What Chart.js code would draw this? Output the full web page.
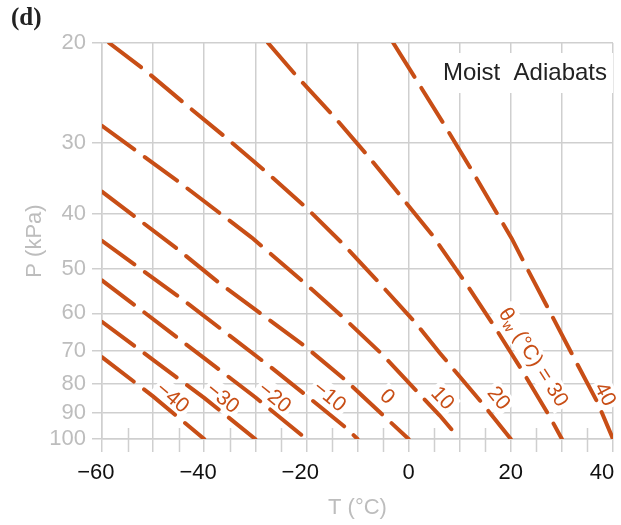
<!DOCTYPE html>
<html>
<head>
<meta charset="utf-8">
<script src="https://cdn.jsdelivr.net/npm/chart.js@4/dist/chart.umd.min.js"></script>
<style>
  html, body { margin: 0; padding: 0; background: #fff; }
  #wrap { width: 621px; height: 525px; }
</style>
</head>
<body>
<div id="wrap"><canvas id="chart" width="621" height="525"></canvas></div>
<script>
// wet-bulb potential temperature of each moist adiabat (deg C)
const thetaW = [-40, -30, -20, -10, 0, 10, 20, 30, 40];

// T (deg C) and P (kPa) along each curve
const tempM40 = [-60, -50, -40];
const presM40 = [71.7, 84.1, 100];
const tempM30 = [-60, -50, -40, -30];
const presM30 = [62.1, 72.5, 84.6, 100];
const tempM20 = [-60, -51.7, -40, -30, -20];
const presM20 = [52.5, 59.8, 72.0, 84.4, 100];
const tempM10 = [-60, -44.7, -26.8, -20.3, -12.1, -10];
const presM10 = [44.7, 56.3, 74.9, 83.4, 95.8, 100];
const tempP0 = [-60, -45.1, -37.1, -28.8, -20.3, -12.5, -5.0, 0];
const presP0 = [36.6, 46.3, 53.0, 60.2, 68.6, 78.5, 90.8, 100];
const tempP10 = [-60, -45.1, -30.7, -20.4, -12.8, -5.3, 1.3, 6.1, 10];
const presP10 = [28.0, 35.1, 44.1, 53.0, 61.0, 70.7, 81.8, 90.9, 100];
const tempP20 = [-58.6, -51.7, -43.8, -35.9, -28.0, -20.1, -12.8, -5.6, 1.3, 6.1, 14.6, 20];
const presP20 = [20, 22.3, 25.6, 29.3, 33.7, 39.0, 45.3, 53.2, 62.3, 70.5, 86.9, 100];
const tempP30 = [-27.5, -21.7, -14.7, -7.9, -1.4, 4.5, 11.0, 16.6, 22.3, 27.7, 30];
const presP30 = [20, 23.0, 26.9, 31.7, 37.4, 43.5, 52.8, 62.9, 75.9, 91.6, 100];
const tempP40 = [-3.0, 1.6, 7.0, 12.4, 17.6, 20.2, 23.4, 28.3, 32.4, 37.0, 40];
const presP40 = [20, 23.3, 27.9, 33.6, 40.4, 44.3, 50.4, 61.2, 72.0, 86.3, 100];

// axis ticks
const pressureTicks = [20, 30, 40, 50, 60, 70, 80, 90, 100];
const tempMin = -60;
const tempMax = 40;

const curveTemps = [tempM40, tempM30, tempM20, tempM10, tempP0, tempP10, tempP20, tempP30, tempP40];
const curvePres = [presM40, presM30, presM20, presM10, presP0, presP10, presP20, presP30, presP40];

// where each curve label sits: pressure along the curve, and gap off the line (px)
const labelAt = [87.6, 87.8, 87.7, 87.9, 88.4, 88.1, 88.2, 74.3, 85.1];
const labelGap = [11, 11, 11.5, 13.5, 16, 13.5, 15.5, 16, 10];

const ORANGE = '#c84e16';
const GRID = '#cfcfcf';
const PALE = '#bdbdbd';
const SANS = '"Liberation Sans", Arial, sans-serif';

const fmt = (v) => (v < 0 ? '\u2212' + Math.abs(v) : String(v));

// x tick text: digits sit centred on the tick, the minus hangs to the left,
// and the last label is pulled inside the frame
function xTickLabel(v) {
  if (v % 20 !== 0) return '';
  if (v < 0) return fmt(v) + '\u2007';
  if (v === tempMax) return fmt(v) + '\u2002\u2002';
  return fmt(v);
}

const datasets = thetaW.map((tw, i) => ({
  label: fmt(tw),
  data: curveTemps[i].map((t, k) => ({ x: t, y: curvePres[i][k] })),
  borderColor: ORANGE,
  borderWidth: 4,
  borderDash: [40, 13],
  borderCapStyle: 'round',
  pointRadius: 0,
  tension: 0,
  fill: false,
}));

/** Finds a point on curve i at pressure p and the local direction in pixels. */
function anchorOnCurve(chart, i, p) {
  const { x, y } = chart.scales;
  const ts = curveTemps[i];
  const ps = curvePres[i];
  let k = 0;
  while (k < ps.length - 2 && ps[k + 1] < p) k++;
  const f = (Math.log(p) - Math.log(ps[k])) / (Math.log(ps[k + 1]) - Math.log(ps[k]));
  const t = ts[k] + f * (ts[k + 1] - ts[k]);
  const x1 = x.getPixelForValue(ts[k]);
  const y1 = y.getPixelForValue(ps[k]);
  const x2 = x.getPixelForValue(ts[k + 1]);
  const y2 = y.getPixelForValue(ps[k + 1]);
  return {
    px: x.getPixelForValue(t),
    py: y.getPixelForValue(p),
    angle: Math.atan2(y2 - y1, x2 - x1),
  };
}

const decorations = {
  id: 'decorations',
  beforeDatasetsDraw(chart) {
    const { ctx, chartArea, scales } = chart;
    ctx.save();

    // minor ticks every 5 degrees across the bottom axis
    ctx.strokeStyle = GRID;
    ctx.lineWidth = 1.5;
    for (let v = tempMin + 5; v < tempMax; v += 10) {
      const px = Math.round(scales.x.getPixelForValue(v)) + 0.5;
      ctx.beginPath();
      ctx.moveTo(px, chartArea.bottom - 11);
      ctx.lineTo(px, chartArea.bottom + 13);
      ctx.stroke();
    }

    // "Moist Adiabats" box
    ctx.font = '24px ' + SANS;
    ctx.textBaseline = 'middle';
    ctx.textAlign = 'right';
    const title = 'Moist  Adiabats';
    const tw = ctx.measureText(title).width;
    const tx = chartArea.right - 6;
    const ty = chartArea.top + 30;
    ctx.fillStyle = '#fff';
    ctx.fillRect(tx - tw - 8, ty - 20, tw + 14, 40);
    ctx.fillStyle = '#222';
    ctx.fillText(title, tx, ty);

    // curve labels
    thetaW.forEach((tw2, i) => {
      const a = anchorOnCurve(chart, i, labelAt[i]);
      const cx = a.px + labelGap[i] * Math.sin(a.angle);
      const cy = a.py - labelGap[i] * Math.cos(a.angle);
      ctx.save();
      ctx.translate(cx, cy);
      ctx.rotate(a.angle);
      ctx.textBaseline = 'middle';
      ctx.textAlign = 'left';
      const big = '21px ' + SANS;
      const small = '14px ' + SANS;
      let parts;
      if (tw2 === 30) {
        parts = [
          { s: '\u03b8', f: big, dy: 0 },
          { s: 'w', f: small, dy: 5 },
          { s: ' (\u00b0C) = 30', f: big, dy: 0 },
        ];
      } else {
        parts = [{ s: fmt(tw2), f: big, dy: 0 }];
      }
      let total = 0;
      parts.forEach((pt) => {
        ctx.font = pt.f;
        pt.w = ctx.measureText(pt.s).width;
        total += pt.w;
      });
      ctx.fillStyle = '#fff';
      ctx.fillRect(-total / 2 - 3, -12, total + 6, 24);
      ctx.fillStyle = ORANGE;
      let xx = -total / 2;
      parts.forEach((pt) => {
        ctx.font = pt.f;
        ctx.fillText(pt.s, xx, pt.dy);
        xx += pt.w;
      });
      ctx.restore();
    });

    ctx.restore();
  },
  afterDraw(chart) {
    const { ctx } = chart;
    ctx.save();
    ctx.font = 'bold 25px "Liberation Serif", "Times New Roman", serif';
    ctx.fillStyle = '#222';
    ctx.textBaseline = 'alphabetic';
    ctx.textAlign = 'left';
    ctx.fillText('(d)', 11, 25);
    ctx.restore();
  },
};

/* global Chart */
new Chart(document.getElementById('chart'), {
  type: 'line',
  data: { datasets },
  options: {
    responsive: false,
    animation: false,
    events: [],
    layout: { padding: { top: 43, right: 8, left: 0, bottom: 0 } },
    plugins: { legend: { display: false }, tooltip: { enabled: false } },
    scales: {
      x: {
        type: 'linear',
        min: tempMin,
        max: tempMax,
        afterFit: (s) => {
          s.height = 86;
          s.paddingLeft = 0;
          s.paddingRight = 0;
        },
        grid: { color: GRID, lineWidth: 1.5, tickLength: 13, tickColor: GRID },
        border: { color: GRID, width: 1.5 },
        ticks: {
          stepSize: 10,
          autoSkip: false,
          maxRotation: 0,
          padding: 8,
          color: '#111',
          font: { family: SANS, size: 22 },
          callback: (v) => xTickLabel(v),
        },
        title: {
          display: true,
          text: 'T (\u00b0C)',
          color: PALE,
          padding: { top: 0, bottom: 4 },
          font: { family: SANS, size: 22 },
        },
      },
      y: {
        type: 'logarithmic',
        min: 20,
        max: 100,
        reverse: true,
        afterFit: (s) => {
          s.width = 102;
          s.paddingTop = 0;
          s.paddingBottom = 0;
        },
        afterBuildTicks: (s) => { s.ticks = pressureTicks.map((v) => ({ value: v })); },
        grid: { color: GRID, lineWidth: 1.5, tickLength: 10, tickColor: GRID },
        border: { color: GRID, width: 1.5 },
        ticks: {
          padding: 6,
          color: PALE,
          font: { family: SANS, size: 22 },
          callback: (v) => String(v),
        },
        title: {
          display: true,
          text: 'P (kPa)',
          color: PALE,
          padding: { top: 22, bottom: 0 },
          font: { family: SANS, size: 22 },
        },
      },
    },
  },
  plugins: [decorations],
});
</script>
</body>
</html>
